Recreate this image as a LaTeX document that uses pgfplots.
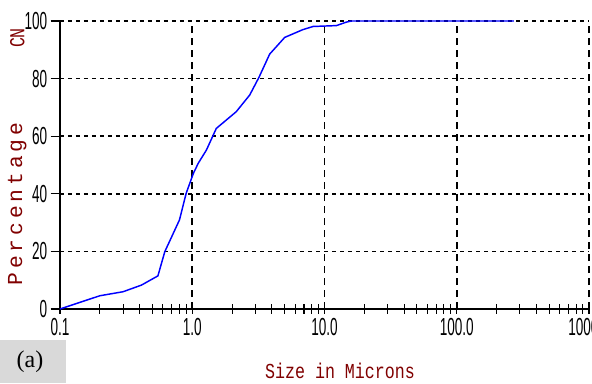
\documentclass[border=0pt]{standalone}
\usepackage{pgfplots}
\pgfplotsset{compat=1.18}
\usepackage{fontspec}
\setmainfont{Liberation Serif}
\newfontfamily\tickfont[FakeStretch=0.55]{Liberation Sans}
\newfontfamily\labfont[FakeStretch=0.78]{Liberation Mono}
\newfontfamily\labfontsp[LetterSpace=18]{Liberation Mono}
\definecolor{labred}{RGB}{128,0,0}
\definecolor{boxgray}{RGB}{217,217,217}
\begin{document}
\begin{tikzpicture}
\begin{axis}[
  at={(0,0)}, anchor=south west,
  scale only axis,
  width=396.75pt, height=216pt,
  xmode=log,
  xmin=0.1, xmax=1000,
  ymin=0, ymax=100,
  axis lines*=left,
  axis line style={black, line width=1pt},
  xtick={0.1,1,10,100,1000},
  xticklabels={0.1,1.0,10.0,100.0,1000.0},
  ytick={0,20,40,60,80,100},
  minor x tick num=0,
  xtick align=center,
  ytick align=outside,
  major tick length=7pt,
  minor tick length=7pt,
  tick style={black, line width=0.8pt},
  ymajorgrids, xmajorgrids,
  major y grid style={black, line width=1.3pt, dash pattern=on 3pt off 3pt},
  major x grid style={black, line width=1.3pt, dash pattern=on 5pt off 4pt},
  /pgf/number format/assume math mode=true,
  tick label style={font=\tickfont\fontsize{18.5}{20}\selectfont, black},
  xticklabel style={yshift=0pt},
  yticklabel style={xshift=1pt},
  clip=false,
]
\addplot[color={rgb,255:red,0;green,0;blue,255}, line width=1.1pt] coordinates {
(0.1,0) (0.2,4.6) (0.3,6.0) (0.413,8.3) (0.55,11.5) (0.62,19.9) (0.8,30.9)
(0.9,40.2) (1.02,47.1) (1.11,50.6) (1.28,55.2) (1.52,62.7) (2.15,68.5)
(2.72,74.3) (3.2,80.5) (3.85,88.5) (5.0,94.3) (6.86,97.0) (8.2,98.1)
(12.3,98.4) (14.6,99.6) (16,100) (270,100)
};
\end{axis}
\node[font=\labfont\fontsize{16}{18}\selectfont, text=labred] at (210pt,-46.5pt) {Size in Microns};
\node[font=\labfontsp\fontsize{16}{18}\selectfont, text=labred, rotate=90] at (-32pt,78.75pt) {Percentage};
\node[font=\labfont\fontsize{16}{18}\selectfont, text=labred, rotate=90] at (-32pt,203.25pt) {CN};
\fill[boxgray] (-45pt,-55.5pt) rectangle (4.5pt,-23.25pt);
\node[font=\fontsize{18}{20}\selectfont] at (-22.5pt,-39.75pt) {(a)};
\pgfresetboundingbox
\useasboundingbox (-45pt,-55.5pt) rectangle (399pt,231.75pt);
\end{tikzpicture}
\end{document}
